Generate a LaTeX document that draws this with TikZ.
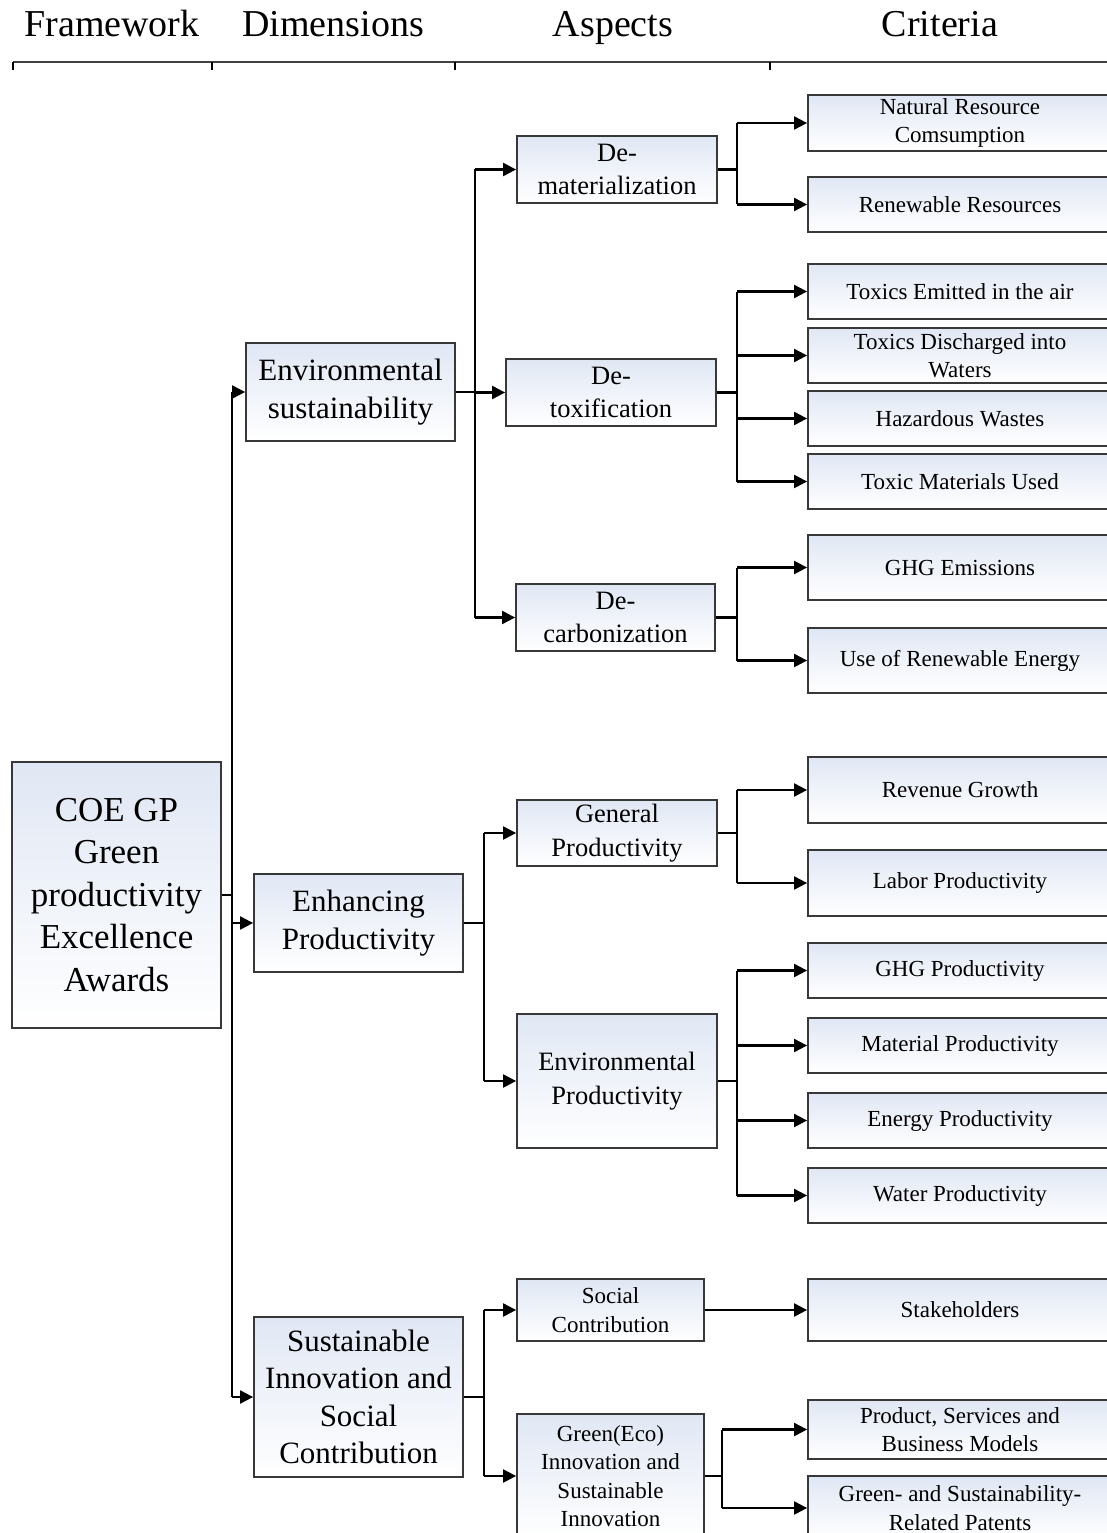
\documentclass[tikz,border=0pt]{standalone}
\usepackage{fontspec}
\setmainfont{Liberation Serif}
\usetikzlibrary{arrows.meta,calc}
\definecolor{boxtop}{RGB}{224,231,244}
\newcommand\fsH{\fontsize{38}{45}\selectfont}
\newcommand\fsA{\fontsize{35}{42.5}\selectfont}
\newcommand\fsB{\fontsize{31}{37.5}\selectfont}
\newcommand\fsC{\fontsize{26.5}{33.5}\selectfont}
\newcommand\fsD{\fontsize{23}{28.3}\selectfont}
\tikzset{
  box/.style={draw=black!78, line width=1.8pt, top color=boxtop, bottom color=white, align=center, inner sep=1pt},
  crit/.style={box, font=\fsD, minimum width=304pt},
  asp/.style={box, font=\fsC},
  dim/.style={box, font=\fsB, minimum width=209pt},
  hdr/.style={font=\fsH, anchor=base, inner sep=0pt},
  conn/.style={line width=2.1pt},
  arr/.style={line width=2.1pt, -{Triangle[length=13pt,width=13pt]}},
}
\begin{document}
\begin{tikzpicture}[x=1pt,y=-1pt]
\useasboundingbox (0,0) rectangle (1107,1533);
\clip (0,0) rectangle (1107,1533);
% header
\node[hdr] (h1) at (112,37) {Framework};
\node[hdr] (h2) at (333,37) {Dimensions};
\node[hdr] (h3) at (613,37) {Aspects};
\node[hdr] (h4) at (940,37) {Criteria};
\coordinate (l0) at (13,62);
\coordinate (l1) at (212,62);
\coordinate (l2) at (455,62);
\coordinate (l3) at (770,62);
\coordinate (lE) at (1107,62);
\draw[line width=2.2pt, black!75] (l0) -- (lE);
\foreach \t in {l0,l1,l2,l3} \draw[line width=1.5pt] (\t) -- ++(0,8);
% framework
\node[box, font=\fsA, minimum width=209pt, minimum height=266pt] (fw) at (116.5,895) {COE GP\\Green\\productivity\\Excellence\\Awards};
% dimensions
\node[dim, minimum height=98pt] (env) at (350.5,392) {Environmental\\sustainability};
\node[dim, minimum height=98pt] (enh) at (358.5,923) {Enhancing\\Productivity};
\node[dim, minimum height=160pt] (sus) at (358.5,1397) {Sustainable\\Innovation and\\Social\\Contribution};
% aspects
\node[asp, minimum width=200pt, minimum height=67pt] (dm) at (617,169.5) {De-\\materialization};
\node[asp, minimum width=210pt, minimum height=67pt] (dt) at (611,392.5) {De-\\toxification};
\node[asp, minimum width=199pt, minimum height=67pt] (dc) at (615.5,617.5) {De-\\carbonization};
\node[asp, minimum width=200pt, minimum height=66pt] (gp) at (617,833) {General\\Productivity};
\node[asp, minimum width=200pt, minimum height=134pt] (ep) at (617,1081) {Environmental\\Productivity};
\node[box, font=\fsD, minimum width=187pt, minimum height=62pt] (sc) at (610.5,1310) {Social\\Contribution};
\node[box, font=\fsD, minimum width=187pt, minimum height=124pt] (ge) at (610.5,1476) {Green(Eco)\\Innovation and\\Sustainable\\Innovation};
% criteria
\node[crit, minimum height=56pt] (c1) at (960,123) {Natural Resource\\Comsumption};
\node[crit, minimum height=55pt] (c2) at (960,204.5) {Renewable Resources};
\node[crit, minimum height=55pt] (c3) at (960,291.5) {Toxics Emitted in the air};
\node[crit, minimum height=55pt] (c4) at (960,355.5) {Toxics Discharged into\\Waters};
\node[crit, minimum height=55pt] (c5) at (960,418.5) {Hazardous Wastes};
\node[crit, minimum height=55pt] (c6) at (960,481.5) {Toxic Materials Used};
\node[crit, minimum height=65pt] (c7) at (960,567.5) {GHG Emissions};
\node[crit, minimum height=65pt] (c8) at (960,660.5) {Use of Renewable Energy};
\node[crit, minimum height=66pt] (c9) at (960,790) {Revenue Growth};
\node[crit, minimum height=66pt] (c10) at (960,883) {Labor Productivity};
\node[crit, minimum height=55pt] (c11) at (960,970.5) {GHG Productivity};
\node[crit, minimum height=55pt] (c12) at (960,1045.5) {Material Productivity};
\node[crit, minimum height=55pt] (c13) at (960,1120.5) {Energy Productivity};
\node[crit, minimum height=55pt] (c14) at (960,1195.5) {Water Productivity};
\node[crit, minimum height=62pt] (c15) at (960,1310) {Stakeholders};
\node[crit, minimum height=59pt] (c16) at (960,1429.5) {Product, Services and\\Business Models};
\node[crit, minimum height=64pt] (c17) at (960,1508) {Green- and Sustainability-\\Related Patents};
% bus coordinates
\coordinate (bA) at (232,0);
\coordinate (bB) at (475,0);
\coordinate (bC) at (484,0);
\coordinate (bD) at (737,0);
\coordinate (bE) at (722,0);
% framework -> dimensions
\draw[conn] (fw.east) -- (fw.east -| bA);
\draw[conn] (bA |- env.west) -- (bA |- sus.west);
\foreach \n in {env,enh,sus} \draw[arr] (bA |- \n.west) -- (\n.west);
% env -> aspects
\draw[conn] (env.east) -- (env.east -| bB);
\draw[conn] (bB |- dm.west) -- (bB |- dc.west);
\foreach \n in {dm,dt,dc} \draw[arr] (bB |- \n.west) -- (\n.west);
% enh -> aspects
\draw[conn] (enh.east) -- (enh.east -| bC);
\draw[conn] (bC |- gp.west) -- (bC |- ep.west);
\foreach \n in {gp,ep} \draw[arr] (bC |- \n.west) -- (\n.west);
% sus -> aspects
\draw[conn] (sus.east) -- (sus.east -| bC);
\draw[conn] (bC |- sc.west) -- (bC |- ge.west);
\foreach \n in {sc,ge} \draw[arr] (bC |- \n.west) -- (\n.west);
% aspects -> criteria
\draw[conn] (dm.east) -- (dm.east -| bD);
\draw[conn] (bD |- c1.west) -- (bD |- c2.west);
\foreach \n in {c1,c2} \draw[arr] (bD |- \n.west) -- (\n.west);
\draw[conn] (dt.east) -- (dt.east -| bD);
\draw[conn] (bD |- c3.west) -- (bD |- c6.west);
\foreach \n in {c3,c4,c5,c6} \draw[arr] (bD |- \n.west) -- (\n.west);
\draw[conn] (dc.east) -- (dc.east -| bD);
\draw[conn] (bD |- c7.west) -- (bD |- c8.west);
\foreach \n in {c7,c8} \draw[arr] (bD |- \n.west) -- (\n.west);
\draw[conn] (gp.east) -- (gp.east -| bD);
\draw[conn] (bD |- c9.west) -- (bD |- c10.west);
\foreach \n in {c9,c10} \draw[arr] (bD |- \n.west) -- (\n.west);
\draw[conn] (ep.east) -- (ep.east -| bD);
\draw[conn] (bD |- c11.west) -- (bD |- c14.west);
\foreach \n in {c11,c12,c13,c14} \draw[arr] (bD |- \n.west) -- (\n.west);
\draw[arr] (sc.east) -- (c15.west);
\draw[conn] (ge.east) -- (ge.east -| bE);
\draw[conn] (bE |- c16.west) -- (bE |- c17.west);
\foreach \n in {c16,c17} \draw[arr] (bE |- \n.west) -- (\n.west);
\end{tikzpicture}
\end{document}
